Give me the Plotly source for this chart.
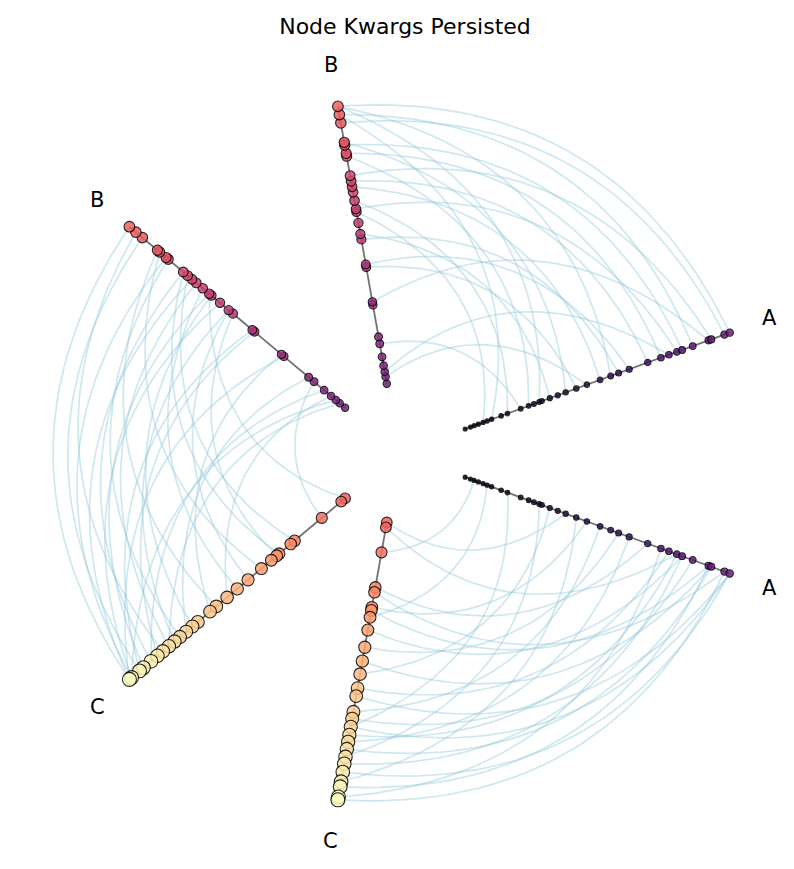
import numpy as np
import plotly.graph_objects as go

# node positions along each axis (0 = inner end, 1 = outer end)
a_vals = [0, .02, .034, .05, .068, .083, .10, .136, .16, .21, .24, .26, .28, .29, .32, .35, .38,
          .42, .46, .51, .55, .58, .62, .69, .74, .77, .80, .82, .86, .92, .93, .98, 1.0]
b_vals = [0, .025, .043, .065, .097, .144, .169, .284, .295, .42, .43, .52, .54, .58, .62, .63,
          .66, .69, .71, .73, .75, .82, .83, .86, .87, .94, .97, 1.0]
c_vals = [0, .018, .108, .234, .252, .306, .317, .342, .388, .45, .50, .547, .597, .626, .683,
          .708, .737, .766, .791, .817, .845, .87, .9, .935, .953, .99, 1.0]

group_names = ["A", "B", "C"]
# two copies of each group axis (degrees)
axis_angles = {"A": [20, 340], "B": [100, 140], "C": [220, 260]}

# edges: (index in first group, index in second group)
ab_edges = [(32, 27), (31, 25), (30, 20), (28, 26), (26, 15), (24, 22), (22, 10), (20, 27),
            (19, 18), (17, 9), (16, 24), (14, 12), (12, 27), (10, 21), (9, 5), (8, 16),
            (6, 26), (4, 14), (29, 8), (25, 2), (23, 19), (21, 11), (27, 23), (18, 1)]
bc_edges = [(27, 26), (26, 20), (25, 24), (24, 12), (23, 8), (22, 25), (21, 17), (20, 22),
            (19, 3), (18, 26), (17, 19), (16, 10), (15, 23), (14, 15), (13, 25), (12, 18),
            (11, 6), (10, 24), (9, 21), (8, 13), (7, 26), (6, 16), (5, 2), (4, 22), (3, 11),
            (2, 25), (1, 19), (15, 0), (20, 5), (12, 9)]
ca_edges = [(26, 31), (25, 24), (24, 29), (23, 17), (22, 32), (21, 27), (20, 12), (19, 30),
            (18, 22), (17, 26), (16, 8), (15, 28), (14, 19), (13, 32), (12, 25), (11, 14),
            (10, 30), (9, 21), (8, 27), (7, 5), (6, 29), (5, 18), (4, 31), (3, 23), (2, 2),
            (1, 26), (0, 16), (16, 32)]

vals = {"A": a_vals, "B": b_vals, "C": c_vals}
r0, r1 = 0.2, 1.0


def pos(v, ang):
    r = r0 + (r1 - r0) * v
    t = np.radians(ang)
    return r * np.cos(t), r * np.sin(t), r


def bezier(v1, ang1, v2, ang2):
    x0, y0, ra = pos(v1, ang1)
    x2, y2, rb = pos(v2, ang2)
    mid = np.radians((ang1 + ang2) / 2)
    rc = 1.2 * (ra + rb) / 2
    xc, yc = rc * np.cos(mid), rc * np.sin(mid)
    t = np.linspace(0, 1, 40)
    xs = (1 - t) ** 2 * x0 + 2 * (1 - t) * t * xc + t ** 2 * x2
    ys = (1 - t) ** 2 * y0 + 2 * (1 - t) * t * yc + t ** 2 * y2
    return list(xs) + [None], list(ys) + [None]


fig = go.Figure()

ex, ey = [], []
for edges, (g1, a1), (g2, a2) in [(ab_edges, ("A", 20), ("B", 100)),
                                   (bc_edges, ("B", 140), ("C", 220)),
                                   (ca_edges, ("C", 260), ("A", 340))]:
    for i, j in edges:
        xs, ys = bezier(vals[g1][i], a1, vals[g2][j], a2)
        ex += xs
        ey += ys
fig.add_trace(go.Scatter(x=ex, y=ey, mode="lines", hoverinfo="skip",
                         line=dict(color="rgba(140,198,218,0.42)", width=1.7)))

# axes
for g in group_names:
    for ang in axis_angles[g]:
        xa, ya, _ = pos(0, ang)
        xb, yb, _ = pos(1, ang)
        fig.add_trace(go.Scatter(x=[xa, xb], y=[ya, yb], mode="lines",
                                 line=dict(color="rgba(90,90,90,0.85)", width=1.8),
                                 hoverinfo="skip"))

# nodes
for gi, g in enumerate(group_names):
    v = np.array(vals[g])
    c = (gi + v) / 3
    for ang in axis_angles[g]:
        x, y, _ = pos(v, ang)
        fig.add_trace(go.Scatter(
            x=x, y=y, mode="markers",
            marker=dict(size=4 + 10 * c, color=c, colorscale="Magma", cmin=0, cmax=1,
                        opacity=0.85, line=dict(color="black", width=1.1))))
    for ang in axis_angles[g]:
        t = np.radians(ang)
        fig.add_annotation(x=1.12 * np.cos(t), y=1.12 * np.sin(t), text=g, showarrow=False,
                           font=dict(size=21, color="black"))

fig.update_layout(
    width=794, height=869, showlegend=False,
    plot_bgcolor="white", paper_bgcolor="white",
    font=dict(family="DejaVu Sans"),
    margin=dict(l=0, r=0, t=0, b=0),
    title=dict(text="Node Kwargs Persisted", x=0.5, y=0.979, xanchor="center",
               yanchor="middle", font=dict(size=22, color="black")),
    xaxis=dict(range=[-1.111, 1.145], visible=False),
    yaxis=dict(range=[-1.204, 1.264], visible=False),
)

fig.write_html("out.html")
